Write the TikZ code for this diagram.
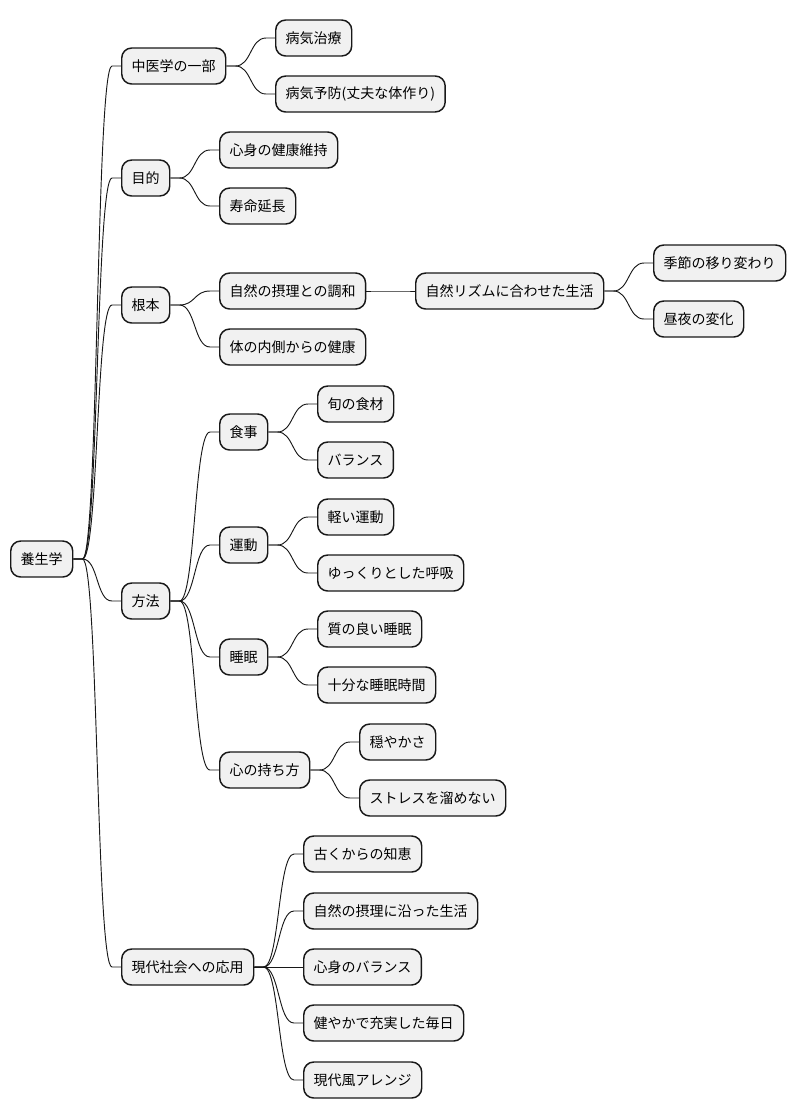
\documentclass[tikz,border=0pt]{standalone}
\usepackage{fontspec}
\setmainfont{Noto Sans CJK JP}
\usetikzlibrary{calc}
\definecolor{NodeFill}{HTML}{F1F1F1}
\definecolor{Ink}{HTML}{181818}

\begin{document}
\begin{tikzpicture}[x=0.75pt, y=-0.75pt,
  topic/.style={draw=Ink, fill=NodeFill, line width=1.1pt, rounded corners=7.5pt,
    minimum height=27pt, inner xsep=7.5pt, inner ysep=0pt, anchor=west,
    font=\fontsize{10.5pt}{12pt}\selectfont},
  link/.style={draw=Ink, line width=0.7pt,
    to path={(\tikztostart) -- ($(\tikztostart)+(9,0)$)
      .. controls ($(\tikztostart)+(25,0)$) and ($(\tikztotarget)+(-25,0)$)
      .. ($(\tikztotarget)+(-9,0)$) -- (\tikztotarget)}}]
\useasboundingbox (0,0) rectangle (796,1118);

% Root
\node[topic] (root) at (10,559) {養生学};

% First level
\node[topic] (med) at (121,66) {中医学の一部};
\node[topic] (aim) at (121,178) {目的};
\node[topic] (base) at (121,305) {根本};
\node[topic] (way) at (121,601) {方法};
\node[topic] (today) at (121,967) {現代社会への応用};

% Part of Chinese medicine
\node[topic] (med1) at (275,38) {病気治療};
\node[topic] (med2) at (275,94) {病気予防(丈夫な体作り)};

% Aim
\node[topic] (aim1) at (219,150) {心身の健康維持};
\node[topic] (aim2) at (219,206) {寿命延長};

% Basis
\node[topic] (base1) at (219,291) {自然の摂理との調和};
\node[topic] (rhythm) at (415,291) {自然リズムに合わせた生活};
\node[topic] (rhythm1) at (653,263) {季節の移り変わり};
\node[topic] (rhythm2) at (653,319) {昼夜の変化};
\node[topic] (base2) at (219,347) {体の内側からの健康};

% Method
\node[topic] (food) at (219,432) {食事};
\node[topic] (food1) at (317,404) {旬の食材};
\node[topic] (food2) at (317,460) {バランス};
\node[topic] (move) at (219,545) {運動};
\node[topic] (move1) at (317,517) {軽い運動};
\node[topic] (move2) at (317,573) {ゆっくりとした呼吸};
\node[topic] (sleep) at (219,657) {睡眠};
\node[topic] (sleep1) at (317,629) {質の良い睡眠};
\node[topic] (sleep2) at (317,685) {十分な睡眠時間};
\node[topic] (mind) at (219,770) {心の持ち方};
\node[topic] (mind1) at (359,742) {穏やかさ};
\node[topic] (mind2) at (359,798) {ストレスを溜めない};

% Modern use
\node[topic] (today1) at (303,854) {古くからの知恵};
\node[topic] (today2) at (303,911) {自然の摂理に沿った生活};
\node[topic] (today3) at (303,967) {心身のバランス};
\node[topic] (today4) at (303,1023) {健やかで充実した毎日};
\node[topic] (today5) at (303,1080) {現代風アレンジ};

% Branches
\foreach \a/\b in {root/med, root/aim, root/base, root/way, root/today,
  med/med1, med/med2, aim/aim1, aim/aim2,
  base/base1, base/base2, base1/rhythm, rhythm/rhythm1, rhythm/rhythm2,
  way/food, way/move, way/sleep, way/mind,
  food/food1, food/food2, move/move1, move/move2,
  sleep/sleep1, sleep/sleep2, mind/mind1, mind/mind2,
  today/today1, today/today2, today/today3, today/today4, today/today5}
  \draw[link] (\a.east) to (\b.west);
\end{tikzpicture}
\end{document}
